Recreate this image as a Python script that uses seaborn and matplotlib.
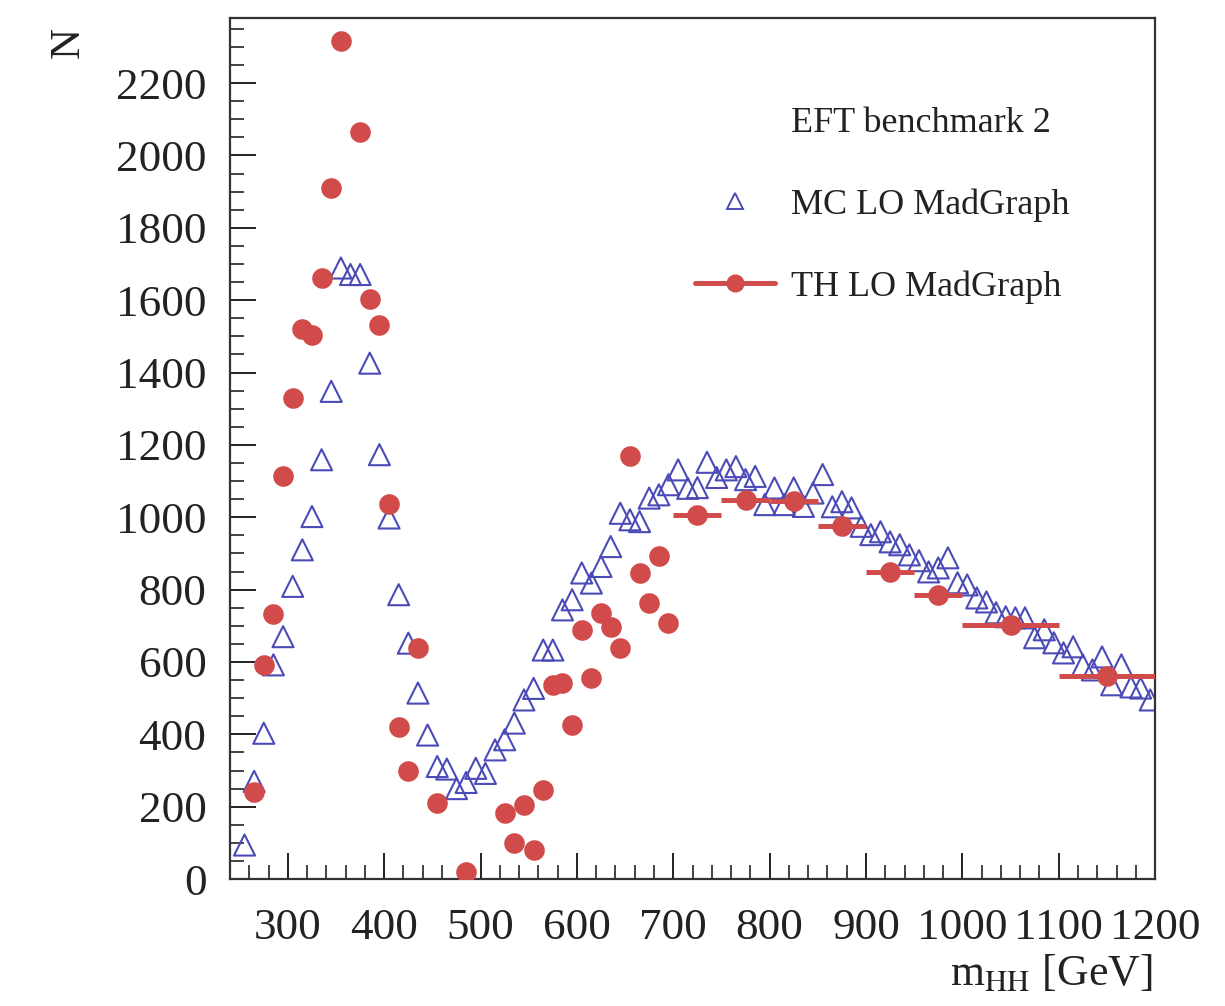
import numpy as np
import pandas as pd
import matplotlib
matplotlib.use("Agg")
import matplotlib.pyplot as plt
import seaborn as sns
from matplotlib.lines import Line2D
from matplotlib.ticker import MultipleLocator

# ---------------- data ----------------
mc_x = [255, 265, 275, 285, 295, 305, 315, 325, 335, 345,
        355, 365, 375, 385, 395, 405, 415, 425, 435, 445,
        455, 465, 475, 485, 495, 505, 515, 525, 535, 545,
        555, 565, 575, 585, 595, 605, 615, 625, 635, 645,
        655, 665, 675, 685, 695, 705, 715, 725, 735, 745,
        755, 765, 775, 785, 795, 805, 815, 825, 835, 845,
        855, 865, 875, 885, 895, 905, 915, 925, 935, 945,
        955, 965, 975, 985, 995, 1005, 1015, 1025, 1035, 1045,
        1055, 1065, 1075, 1085, 1095, 1105, 1115, 1125, 1135, 1145,
        1155, 1165, 1175, 1185, 1195]
mc_y = [94, 270, 403, 592, 670, 809, 910, 1002, 1159, 1348,
        1689, 1671, 1671, 1426, 1173, 998, 786, 652, 514, 398,
        311, 304, 250, 267, 306, 292, 357, 385, 431, 495,
        527, 633, 633, 744, 772, 846, 818, 864, 919, 1011,
        993, 988, 1053, 1062, 1090, 1131, 1080, 1082, 1152, 1110,
        1131, 1140, 1104, 1113, 1035, 1081, 1035, 1081, 1030, 1067,
        1118, 1029, 1043, 1026, 975, 952, 960, 932, 924, 896,
        880, 849, 860, 888, 819, 813, 777, 766, 736, 725,
        722, 722, 667, 689, 653, 625, 642, 592, 578, 614,
        537, 592, 531, 528, 495]

th_x = [265, 275, 285, 295, 305, 315, 325, 335, 345, 355,
        375, 385, 395, 405, 415, 425, 435, 455, 485,
        525, 535, 545, 555, 565, 575, 585, 595, 605, 615,
        625, 635, 645, 655, 665, 675, 685, 695,
        725, 775, 825, 875, 925, 975, 1050, 1150]
th_y = [240, 592, 732, 1115, 1330, 1519, 1505, 1662, 1911, 2316,
        2064, 1602, 1532, 1037, 420, 300, 638, 209, 20,
        182, 99, 205, 80, 246, 537, 541, 426, 689, 555,
        735, 698, 638, 1168, 845, 764, 893, 709,
        1007, 1048, 1044, 976, 850, 786, 703, 560]
th_halfwidth = [5, 5, 5, 5, 5, 5, 5, 5, 5, 5,
                5, 5, 5, 5, 5, 5, 5, 5, 5,
                5, 5, 5, 5, 5, 5, 5, 5, 5, 5,
                5, 5, 5, 5, 5, 5, 5, 5,
                25, 25, 25, 25, 25, 25, 50, 50]

x_label = r"m$_{\mathrm{HH}}$ [GeV]"
y_label = "N"
legend_title = "EFT benchmark 2"
mc_label = "MC LO MadGraph"
th_label = "TH LO MadGraph"

BLUE = "#4b4bb8"
RED = "#d24b4b"

# ---------------- style ----------------
sns.set_theme(style="white")
plt.rcParams["font.family"] = ["Liberation Serif", "DejaVu Serif"]
plt.rcParams["mathtext.fontset"] = "stix"

fig = plt.figure(figsize=(12.25, 10.06), dpi=100)
ax = fig.add_axes([0.1878, 0.1262, 0.7551, 0.8559])

mc_df = pd.DataFrame({"m": mc_x, "N": mc_y})
th_df = pd.DataFrame({"m": th_x, "N": th_y, "hw": th_halfwidth})

sns.scatterplot(data=mc_df, x="m", y="N", marker="^", s=230,
                color=BLUE, facecolors="none", edgecolor=BLUE,
                linewidth=1.5, ax=ax, zorder=2, legend=False)

ax.errorbar(th_df["m"], th_df["N"], xerr=th_df["hw"], fmt="none",
            ecolor=RED, elinewidth=3.6, capsize=0, zorder=3)
sns.scatterplot(data=th_df, x="m", y="N", marker="o", s=220,
                color=RED, edgecolor=RED, linewidth=0, ax=ax,
                zorder=4, legend=False)

ax.set_xlim(240, 1200)
ax.set_ylim(0, 2380)
ax.xaxis.set_major_locator(MultipleLocator(100))
ax.xaxis.set_minor_locator(MultipleLocator(20))
ax.yaxis.set_major_locator(MultipleLocator(200))
ax.yaxis.set_minor_locator(MultipleLocator(50))
ax.tick_params(which="both", direction="in", top=False, right=False,
               bottom=True, left=True, colors="#222222")
ax.tick_params(which="major", length=19, width=1.4, labelsize=32.5)
ax.tick_params(which="minor", length=10, width=1.2)
ax.tick_params(axis="x", which="major", pad=21)
ax.tick_params(axis="y", which="major", pad=17)
for sp in ax.spines.values():
    sp.set_linewidth(1.6)
    sp.set_color("#333333")
ax.grid(False)

ax.set_xlabel(x_label, fontsize=31.5, loc="right", color="#222222")
ax.xaxis.set_label_coords(0.997, -0.086)
ax.set_ylabel(y_label, fontsize=31, loc="top", color="#222222")
ax.yaxis.set_label_coords(-0.154, 0.99)

h0 = Line2D([], [], linestyle="none")
h1 = Line2D([], [], linestyle="none", marker="^", markerfacecolor="none",
            markeredgecolor=BLUE, markersize=12, markeredgewidth=1.4)
h2 = Line2D([], [], color=RED, linewidth=3.6, marker="o", markersize=12)
leg = ax.legend([h0, h1, h2], [legend_title, mc_label, th_label],
                loc="upper left", bbox_to_anchor=(0.503, 0.897),
                frameon=False, fontsize=26, handlelength=2.2,
                handletextpad=0.45, labelspacing=1.34, borderpad=0,
                borderaxespad=0)
for t in leg.get_texts():
    t.set_color("#222222")

fig.savefig("out.png", dpi=100, facecolor="white")
